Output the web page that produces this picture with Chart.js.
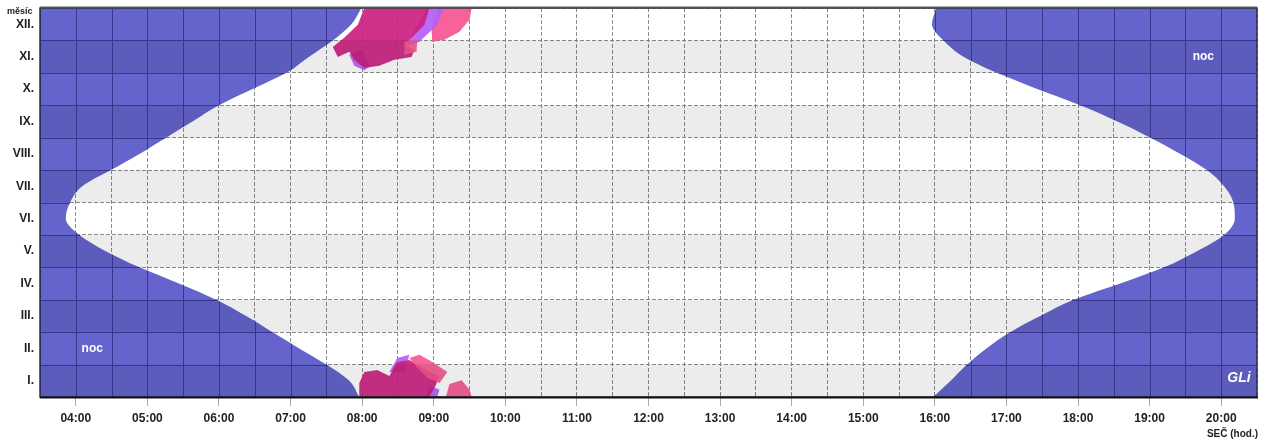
<!DOCTYPE html>
<html>
<head>
<meta charset="utf-8">
<script src="https://cdn.jsdelivr.net/npm/chart.js"></script>
<style>
  html, body { margin: 0; padding: 0; background: #fff; }
  #wrap { width: 1262px; height: 439px; position: relative; }
</style>
</head>
<body>
<div id="wrap"><canvas id="myChart"></canvas></div>
<script>
// mesice zdola nahoru (I. dole, XII. nahore)
var months = ['I.', 'II.', 'III.', 'IV.', 'V.', 'VI.', 'VII.', 'VIII.', 'IX.', 'X.', 'XI.', 'XII.'];

// poloha v roce (0 = 1. leden, 12 = 31. prosinec)
var monthPos = [0, 0.5, 1, 1.5, 2, 2.5, 3, 3.5, 4, 4.5, 5, 5.5, 6, 6.5, 7, 7.5, 8, 8.5, 9, 9.5, 10, 10.5, 11, 11.5, 12];
// vychod a zapad slunce, SEC (hod.)
var sunrise = [7.96, 7.82, 7.50, 7.12, 6.75, 6.38, 5.96, 5.44, 4.89, 4.42, 4.05, 3.86, 3.92, 4.09, 4.49, 4.89, 5.26, 5.63, 6.00, 6.47, 6.94, 7.26, 7.59, 7.85, 7.99];
var sunset = [15.98, 16.22, 16.45, 16.72, 17.05, 17.47, 17.94, 18.59, 19.20, 19.66, 20.04, 20.19, 20.17, 20.04, 19.80, 19.43, 19.01, 18.55, 18.03, 17.43, 16.87, 16.40, 16.12, 15.96, 16.02];

// rozsah osy x (hod.)
var hourMin = 3.5;
var hourMax = 20.5;

// stineni od prekazek [hodina, mesic]
var shadeMagentaTop = [[8.03, 12], [8.94, 12], [8.87, 11.48], [8.59, 10.86], [8.73, 10.71], [8.69, 10.49], [8.45, 10.40], [8.24, 10.22], [8.03, 10.15], [7.89, 10.40], [7.82, 10.65], [7.66, 10.49], [7.59, 10.80], [7.75, 11.08], [7.94, 11.48]];
var shadeVioletTop = [[8.91, 12], [9.15, 12], [9.05, 11.48], [8.80, 10.96], [8.59, 10.80], [8.66, 11.02]];
var shadeVioletTop2 = [[7.82, 10.56], [7.99, 10.71], [8.12, 10.22], [8.03, 10.08], [7.89, 10.22]];
var shadePinkTop = [[9.05, 12], [9.53, 12], [9.50, 11.64], [9.36, 11.27], [9.15, 11.02], [8.98, 10.96], [8.97, 11.33]];
var shadePinkTop2 = [[8.59, 10.96], [8.77, 11.02], [8.76, 10.65], [8.59, 10.56]];
var shadeMagentaBot = [[7.96, 0], [7.96, 0.43], [8.03, 0.77], [8.21, 0.83], [8.38, 0.65], [8.49, 1.08], [8.66, 1.14], [8.80, 0.96], [8.94, 0.77], [9.08, 0.65], [9.03, 0.37], [8.94, 0]];
var shadeVioletBot = [[8.38, 0.77], [8.49, 1.20], [8.66, 1.30], [8.59, 0.77]];
var shadeVioletBot2 = [[8.89, 0], [8.94, 0.37], [9.08, 0.22], [9.05, 0]];
var shadePinkBot = [[8.66, 1.20], [8.80, 1.30], [8.98, 1.08], [9.19, 0.77], [9.08, 0.43], [8.91, 0.59], [8.77, 0.90]];
var shadePinkBot2 = [[9.17, 0], [9.22, 0.40], [9.39, 0.52], [9.50, 0.22], [9.53, 0]];

// popisky "noc" [hodina, mesic]
var nightLabels = [[4.23, 1.5], [19.75, 10.5]];

var NIGHT = '#6464cc';
var FONT = '"Liberation Sans", Arial, sans-serif';

function curve(hours) {
  return hours.map(function (h, i) { return { x: h, y: monthPos[i] }; });
}
function poly(pts) {
  return pts.map(function (p) { return { x: p[0], y: p[1] }; });
}
function shape(pts, color, order) {
  return {
    data: poly(pts), backgroundColor: color, borderWidth: 0, pointRadius: 0,
    fill: 'shape', tension: 0, order: order
  };
}

// pruhy mesicu + plne cary mrizky v noci, texty, ramecek
var extras = {
  id: 'extras',
  afterDatasetsDraw: function (chart) {
    var ctx = chart.ctx, a = chart.chartArea, x = chart.scales.x, y = chart.scales.y;
    ctx.save();
    ctx.fillStyle = 'rgba(0,0,0,0.075)';
    for (var m = 0; m < 12; m += 2) {
      var t = y.getPixelForValue(m + 1), b = y.getPixelForValue(m);
      ctx.fillRect(a.left, t, a.right - a.left, b - t);
    }
    ctx.restore();

    [10, 11].forEach(function (idx) {
      var line = chart.getDatasetMeta(idx).dataset;
      var pts = line.points;
      var edge = idx === 10 ? a.left : a.right;
      ctx.save();
      ctx.beginPath();
      line.path(ctx);
      ctx.lineTo(edge, pts[pts.length - 1].y);
      ctx.lineTo(edge, pts[0].y);
      ctx.closePath();
      ctx.clip();
      ctx.strokeStyle = '#36368c';
      ctx.lineWidth = 1;
      ctx.beginPath();
      x.ticks.forEach(function (tk) {
        var px = Math.round(x.getPixelForValue(tk.value)) + 0.5;
        ctx.moveTo(px, a.top); ctx.lineTo(px, a.bottom);
      });
      y.ticks.forEach(function (tk) {
        if (!Number.isInteger(tk.value)) return;
        var py = Math.round(y.getPixelForValue(tk.value)) + 0.5;
        ctx.moveTo(a.left, py); ctx.lineTo(a.right, py);
      });
      ctx.stroke();
      ctx.restore();
    });
  },
  afterDraw: function (chart) {
    var ctx = chart.ctx, a = chart.chartArea, x = chart.scales.x, y = chart.scales.y;
    ctx.save();
    // ramecek
    ctx.strokeStyle = '#2e2e48';
    ctx.lineWidth = 1.5;
    ctx.strokeRect(a.left, a.top, a.right - a.left, a.bottom - a.top);
    ctx.strokeStyle = '#555';
    ctx.lineWidth = 2;
    ctx.beginPath(); ctx.moveTo(a.left, a.top - 0.5); ctx.lineTo(a.right, a.top - 0.5); ctx.stroke();
    ctx.strokeStyle = '#111';
    ctx.beginPath(); ctx.moveTo(a.left, a.bottom + 0.5); ctx.lineTo(a.right + 1, a.bottom + 0.5); ctx.stroke();

    // noc
    ctx.fillStyle = '#fff';
    ctx.font = 'bold 12px ' + FONT;
    ctx.textAlign = 'center';
    ctx.textBaseline = 'middle';
    nightLabels.forEach(function (p) {
      ctx.fillText('noc', x.getPixelForValue(p[0]), y.getPixelForValue(p[1]));
    });

    // logo
    ctx.font = 'italic bold 14px ' + FONT;
    ctx.fillText('GLi', a.right - 18, a.bottom - 19);

    // popisky os
    ctx.fillStyle = '#222';
    ctx.font = 'bold 9px ' + FONT;
    ctx.textAlign = 'left';
    ctx.textBaseline = 'alphabetic';
    ctx.fillText('měsíc', 7, 14);
    ctx.font = 'bold 10px ' + FONT;
    ctx.textAlign = 'right';
    ctx.fillText('SEČ (hod.)', 1258, 437);
    ctx.restore();
  }
};

var ctx = document.getElementById('myChart').getContext('2d');
var myChart = new Chart(ctx, {
  type: 'line',
  data: {
    datasets: [
      shape(shadePinkTop2, 'rgba(245,90,145,0.9)', 0),
      shape(shadePinkBot, 'rgba(245,85,144,0.9)', 1),
      shape(shadeMagentaTop, 'rgba(204,31,128,0.92)', 2),
      shape(shadeMagentaBot, 'rgba(204,31,128,0.92)', 3),
      shape(shadeVioletTop, 'rgba(181,95,245,0.92)', 4),
      shape(shadeVioletTop2, 'rgba(181,95,245,0.92)', 5),
      shape(shadeVioletBot, 'rgba(181,95,245,0.92)', 6),
      shape(shadeVioletBot2, 'rgba(181,95,245,0.92)', 7),
      shape(shadePinkTop, 'rgba(245,85,144,0.92)', 8),
      shape(shadePinkBot2, 'rgba(245,85,144,0.92)', 9),
      {
        data: curve(sunrise), backgroundColor: NIGHT, borderWidth: 0, pointRadius: 0,
        fill: { value: hourMin }, cubicInterpolationMode: 'monotone', order: 20
      },
      {
        data: curve(sunset), backgroundColor: NIGHT, borderWidth: 0, pointRadius: 0,
        fill: { value: hourMax }, cubicInterpolationMode: 'monotone', order: 21
      }
    ]
  },
  plugins: [extras],
  options: {
    indexAxis: 'y',
    responsive: true,
    maintainAspectRatio: false,
    animation: false,
    layout: { padding: { top: 8, right: 5, left: 0, bottom: 0 } },
    plugins: { legend: { display: false }, tooltip: { enabled: false } },
    scales: {
      x: {
        type: 'linear',
        position: 'bottom',
        min: hourMin,
        max: hourMax,
        afterFit: function (scale) {
          scale.height = 42;
          scale.paddingLeft = 0;
          scale.paddingRight = 0;
        },
        ticks: {
          stepSize: 0.5,
          autoSkip: false,
          maxRotation: 0,
          padding: 5,
          color: '#222',
          font: { family: FONT, size: 12, weight: 'bold' },
          callback: function (v) {
            if (!Number.isInteger(v)) return '';
            return (v < 10 ? '0' : '') + v + ':00';
          }
        },
        grid: {
          color: '#8c8c8c',
          lineWidth: 1,
          tickLength: 9,
          tickBorderDash: [],
          tickColor: function (c) {
            return c.tick && Number.isInteger(c.tick.value) && c.tick.value > hourMin ? '#aaa' : 'rgba(0,0,0,0)';
          }
        },
        border: { display: false, dash: [4, 2] }
      },
      y: {
        type: 'linear',
        min: 0,
        max: 12,
        afterFit: function (scale) {
          scale.width = 40;
          scale.paddingTop = 0;
          scale.paddingBottom = 0;
        },
        ticks: {
          stepSize: 0.5,
          autoSkip: false,
          padding: 6,
          color: '#222',
          font: { family: FONT, size: 12, weight: 'bold' },
          callback: function (v) {
            if (Number.isInteger(v)) return '';
            return months[Math.floor(v)];
          }
        },
        grid: {
          drawTicks: false,
          lineWidth: 1,
          color: function (c) {
            return c.tick && Number.isInteger(c.tick.value) ? '#8c8c8c' : 'rgba(0,0,0,0)';
          }
        },
        border: { display: false, dash: [4, 2] }
      }
    }
  }
});
</script>
</body>
</html>
